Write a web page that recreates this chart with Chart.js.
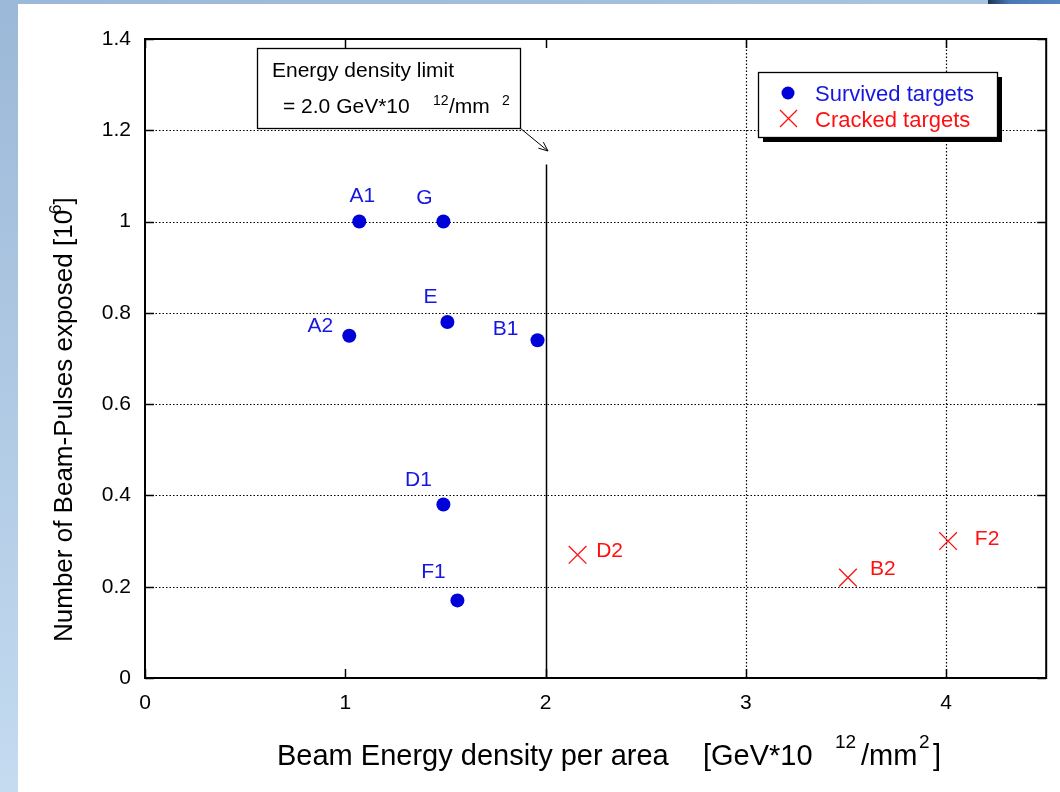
<!DOCTYPE html>
<html>
<head>
<meta charset="utf-8">
<script src="https://cdn.jsdelivr.net/npm/chart.js@4/dist/chart.umd.min.js"></script>
<style>
  html, body { margin: 0; padding: 0; background: #ffffff; }
  #wrap { position: relative; width: 1060px; height: 792px; overflow: hidden; background: #ffffff; }
  #left { position: absolute; left: 0; top: 0; width: 18px; height: 792px;
          background: linear-gradient(to bottom, #9cb8d8, #c4dbf0); }
  #topbar { position: absolute; left: 0; top: 0; width: 988px; height: 4px;
          background: linear-gradient(to right, #9cb8d8, #a9c3e0); }
  #topright { position: absolute; left: 988px; top: 0; width: 72px; height: 4px;
          background: linear-gradient(to right, #1c3558, #4a78b4 30%, #5686c0); }
  #cwrap { position: absolute; left: 0; top: 0; width: 1060px; height: 792px; }
</style>
</head>
<body>
<div id="wrap">
  <div id="left"></div>
  <div id="topbar"></div>
  <div id="topright"></div>
  <div id="cwrap"><canvas id="c"></canvas></div>
</div>
<script>
// ---- data ----
const survivedNames = ['A1', 'G', 'A2', 'E', 'B1', 'D1', 'F1'];
const survivedX = [1.07, 1.49, 1.02, 1.51, 1.96, 1.49, 1.56];
const survivedY = [1.0, 1.0, 0.75, 0.78, 0.74, 0.38, 0.17];

const crackedNames = ['D2', 'B2', 'F2'];
const crackedX = [2.16, 3.51, 4.01];
const crackedY = [0.27, 0.22, 0.30];

const xTicks = [0, 1, 2, 3, 4];
const xTickLabels = ['0', '1', '2', '3', '4'];
const yTicks = [0, 0.2, 0.4, 0.6, 0.8, 1.0, 1.2, 1.4];
const yTickLabels = ['0', '0.2', '0.4', '0.6', '0.8', '1', '1.2', '1.4'];

const limitX = 2.0;
const limitLineTop = 1.125;

const seriesLabels = ['Survived targets', 'Cracked targets'];
// axis title pieces: [text, isSuperscript]
const xTitleParts = [['Beam Energy density per area', false], ['[GeV*10', false], ['12', true], ['/mm', false], ['2', true], [']', false]];
const yTitleParts = [['Number of Beam-Pulses exposed [10', false], ['6', true], [']', false]];
const annoLine1 = 'Energy density limit';
const annoLine2Parts = [['= 2.0 GeV*10', false], ['12', true], ['/mm', false], ['2', true]];

// ---- styles ----
const survivedLabelOffsets = [[3, -25], [-19, -23], [-29, -9], [-17, -25], [-32, -11], [-25, -24], [-24, -28]];
const crackedLabelOffsets = [[32, -4], [35, -8], [39, -2]];
const xTitlePos = [277, 703, 835, 861, 919, 933];
const annoPos = [283, 433, 449, 502];

const BLUE = '#0000d8';
const BLUE_TXT = '#1616e0';
const RED = '#ff1010';
const FONT = '"Liberation Sans", Arial, sans-serif';

const toPts = (xs, ys) => xs.map((x, i) => ({ x: x, y: ys[i] }));

const framePlugin = {
  id: 'frame',
  beforeDatasetsDraw(chart) {
    const { ctx, chartArea: a, scales: { x, y } } = chart;
    ctx.save();
    // dotted grid
    ctx.strokeStyle = '#000';
    ctx.lineWidth = 1.2;
    ctx.setLineDash([1.5, 2]);
    yTicks.forEach(v => {
      if (v <= 0 || v >= 1.4) return;
      const py = Math.round(y.getPixelForValue(v)) + 0.5;
      ctx.beginPath(); ctx.moveTo(a.left, py); ctx.lineTo(a.right, py); ctx.stroke();
    });
    xTicks.forEach(v => {
      if (v <= 2) return;
      const px = Math.round(x.getPixelForValue(v)) + 0.5;
      ctx.beginPath(); ctx.moveTo(px, a.top); ctx.lineTo(px, a.bottom); ctx.stroke();
    });
    ctx.setLineDash([]);
    // solid limit line
    ctx.lineWidth = 1.5;
    const lx = Math.round(x.getPixelForValue(limitX)) + 0.5;
    ctx.beginPath(); ctx.moveTo(lx, y.getPixelForValue(limitLineTop)); ctx.lineTo(lx, a.bottom); ctx.stroke();
    // ticks (inside)
    xTicks.forEach(v => {
      const px = Math.round(x.getPixelForValue(v)) + 0.5;
      ctx.beginPath(); ctx.moveTo(px, a.bottom); ctx.lineTo(px, a.bottom - 9); ctx.stroke();
      ctx.beginPath(); ctx.moveTo(px, a.top); ctx.lineTo(px, a.top + 9); ctx.stroke();
    });
    yTicks.forEach(v => {
      const py = Math.round(y.getPixelForValue(v)) + 0.5;
      ctx.beginPath(); ctx.moveTo(a.left, py); ctx.lineTo(a.left + 9, py); ctx.stroke();
      ctx.beginPath(); ctx.moveTo(a.right, py); ctx.lineTo(a.right - 9, py); ctx.stroke();
    });
    // box
    ctx.lineWidth = 2;
    ctx.strokeRect(a.left, a.top, a.right - a.left, a.bottom - a.top);

    // axis titles
    ctx.fillStyle = '#000';
    ctx.textAlign = 'left';
    ctx.textBaseline = 'alphabetic';
    xTitleParts.forEach((p, i) => {
      ctx.font = (p[1] ? '19px ' : '29px ') + FONT;
      ctx.fillText(p[0], xTitlePos[i], p[1] ? 748 : 765);
    });
    ctx.save();
    ctx.translate(72, 642);
    ctx.rotate(-Math.PI / 2);
    let cx = 0;
    yTitleParts.forEach(p => {
      ctx.font = (p[1] ? '17px ' : '26px ') + FONT;
      if (p[1]) cx -= 4;
      ctx.fillText(p[0], cx, p[1] ? -11 : 0);
      cx += ctx.measureText(p[0]).width;
    });
    ctx.restore();
    ctx.restore();
  },
  afterDatasetsDraw(chart) {
    const { ctx, scales: { x, y } } = chart;
    ctx.save();
    // point labels
    ctx.font = '21px ' + FONT;
    ctx.textAlign = 'center';
    ctx.textBaseline = 'middle';
    ctx.fillStyle = BLUE_TXT;
    survivedNames.forEach((n, i) => {
      const px = x.getPixelForValue(survivedX[i]), py = y.getPixelForValue(survivedY[i]);
      ctx.fillText(n, px + survivedLabelOffsets[i][0], py + survivedLabelOffsets[i][1]);
    });
    ctx.fillStyle = RED;
    crackedNames.forEach((n, i) => {
      const px = x.getPixelForValue(crackedX[i]), py = y.getPixelForValue(crackedY[i]);
      ctx.fillText(n, px + crackedLabelOffsets[i][0], py + crackedLabelOffsets[i][1]);
    });

    // annotation box
    const bx = 257, by = 48, bw = 263, bh = 80;
    ctx.fillStyle = '#fff';
    ctx.fillRect(bx, by, bw, bh);
    ctx.strokeStyle = '#000';
    ctx.lineWidth = 1.3;
    ctx.strokeRect(bx + 0.5, by + 0.5, bw, bh);
    ctx.fillStyle = '#000';
    ctx.textAlign = 'left';
    ctx.textBaseline = 'alphabetic';
    ctx.font = '21px ' + FONT;
    ctx.fillText(annoLine1, 272, 77);
    annoLine2Parts.forEach((p, i) => {
      ctx.font = (p[1] ? '14px ' : '21px ') + FONT;
      ctx.fillText(p[0], annoPos[i], p[1] ? 105 : 113);
    });
    // arrow
    const x0 = bx + bw, y0 = by + bh, x1 = 548, y1 = 151;
    ctx.lineWidth = 1;
    ctx.beginPath(); ctx.moveTo(x0, y0); ctx.lineTo(x1, y1); ctx.stroke();
    const ang = Math.atan2(y1 - y0, x1 - x0);
    ctx.beginPath();
    ctx.moveTo(x1, y1);
    ctx.lineTo(x1 - 10 * Math.cos(ang - 0.4), y1 - 10 * Math.sin(ang - 0.4));
    ctx.moveTo(x1, y1);
    ctx.lineTo(x1 - 10 * Math.cos(ang + 0.4), y1 - 10 * Math.sin(ang + 0.4));
    ctx.stroke();

    // legend box
    const lx = 758, ly = 72, lw = 239, lh = 65;
    ctx.fillStyle = '#000';
    ctx.fillRect(lx + 5, ly + 5, lw, lh);
    ctx.fillStyle = '#fff';
    ctx.fillRect(lx, ly, lw, lh);
    ctx.lineWidth = 1.3;
    ctx.strokeRect(lx + 0.5, ly + 0.5, lw, lh);
    ctx.fillStyle = BLUE;
    ctx.beginPath(); ctx.arc(788, 93, 6.5, 0, Math.PI * 2); ctx.fill();
    ctx.strokeStyle = RED;
    ctx.lineWidth = 1.3;
    ctx.beginPath();
    ctx.moveTo(780, 110); ctx.lineTo(797, 127);
    ctx.moveTo(797, 110); ctx.lineTo(780, 127);
    ctx.stroke();
    ctx.font = '22px ' + FONT;
    ctx.fillStyle = BLUE_TXT;
    ctx.fillText(seriesLabels[0], 815, 101);
    ctx.fillStyle = RED;
    ctx.fillText(seriesLabels[1], 815, 127);
    ctx.restore();
  }
};

new Chart(document.getElementById('c'), {
  type: 'scatter',
  data: {
    datasets: [
      {
        label: seriesLabels[0],
        data: toPts(survivedX, survivedY),
        pointStyle: 'circle',
        pointRadius: 7,
        pointHoverRadius: 7,
        backgroundColor: BLUE,
        borderColor: BLUE,
        borderWidth: 0
      },
      {
        label: seriesLabels[1],
        data: toPts(crackedX, crackedY),
        pointStyle: 'crossRot',
        pointRadius: 12.5,
        pointHoverRadius: 12.5,
        borderColor: RED,
        backgroundColor: RED,
        borderWidth: 1.3
      }
    ]
  },
  options: {
    responsive: true,
    maintainAspectRatio: false,
    animation: false,
    events: [],
    layout: { padding: { top: 39, right: 12, left: 0, bottom: 0 } },
    plugins: { legend: { display: false }, tooltip: { enabled: false } },
    scales: {
      x: {
        type: 'linear',
        min: 0, max: 4.5,
        afterBuildTicks: s => { s.ticks = xTicks.map(v => ({ value: v })); },
        afterFit: s => { s.height = 114; },
        grid: { display: false, drawTicks: false },
        border: { display: false },
        ticks: {
          padding: 13,
          color: '#000',
          font: { family: FONT, size: 21 },
          maxRotation: 0,
          callback: (v) => { const i = xTicks.indexOf(v); return i >= 0 ? xTickLabels[i] : ''; }
        },
        title: { display: false }
      },
      y: {
        type: 'linear',
        min: 0, max: 1.4,
        afterBuildTicks: s => { s.ticks = yTicks.map(v => ({ value: v })); },
        afterFit: s => { s.width = 145; },
        grid: { display: false, drawTicks: false },
        border: { display: false },
        ticks: {
          padding: 14,
          color: '#000',
          font: { family: FONT, size: 21 },
          callback: (v) => { const i = yTicks.findIndex(t => Math.abs(t - v) < 1e-9); return i >= 0 ? yTickLabels[i] : ''; }
        },
        title: { display: false }
      }
    }
  },
  plugins: [framePlugin]
});
</script>
</body>
</html>
